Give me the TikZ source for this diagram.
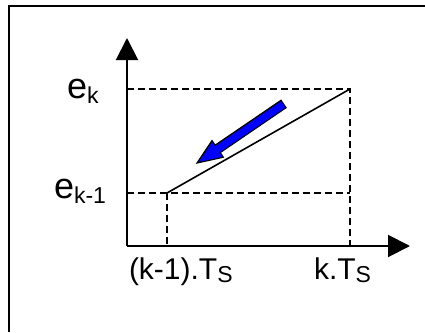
\documentclass[tikz,border=0pt]{standalone}
\usepackage{fontspec}
\setmainfont{Liberation Sans}
\usetikzlibrary{arrows.meta, calc}
\newcommand{\BigLbl}{\fontsize{36}{40}\selectfont}
\newcommand{\SmallLbl}{\fontsize{30}{34}\selectfont}
\newcommand{\LowSub}[2]{\raisebox{-#1}{\fontsize{23}{23}\selectfont #2}}

\begin{document}
\begin{tikzpicture}[x=1pt, y=-1pt,
    axis/.style={line width=2pt, -{Triangle[length=22pt, width=22pt]}},
    guide/.style={line width=1.6pt, dash pattern=on 7pt off 4pt},
    lbl/.style={inner sep=0pt, outer sep=0pt}]
    \useasboundingbox (0,0) rectangle (425,332);

    % Frame (top and left edges only)
    \draw[line width=2.3pt] (8.7,332) -- (8.7,6.2) -- (425,6.2);

    % Points
    \coordinate (O) at (127,246);
    \coordinate (ytip) at (127,38);
    \coordinate (xtip) at (410,246);
    \coordinate (Pa) at (167,193);
    \coordinate (Pb) at (350,89);

    % Axes
    \draw[axis] (O) -- (ytip);
    \draw[axis] (O) -- (xtip);

    % Guide lines
    \draw[guide] (O |- Pb) -- (Pb) -- (Pb |- O);
    \draw[guide] (O |- Pa) -- (Pa -| Pb);
    \draw[guide] (Pa) -- (Pa |- O);

    % Ramp
    \draw[line width=1.6pt] (Pa) -- (Pb);

    % Blue arrow
    \draw[fill=blue, line width=1.2pt, line join=miter]
        (197,163) -- (223.3,157.2) -- (220.2,152.6) -- (286.0,107.7)
        -- (281.0,100.3) -- (215.1,145.2) -- (212.0,140.6) -- cycle;

    % Labels
    \node[lbl, anchor=base west] (ek) at (67,98) {\BigLbl e\LowSub{5pt}{k}};
    \node[lbl, anchor=base west] (ekm) at (54,198) {\BigLbl e\LowSub{5pt}{k-1}};
    \node[lbl, anchor=base west] (tkm) at (129,279) {\SmallLbl (k-1).T\LowSub{3pt}{S}};
    \node[lbl, anchor=base west] (tk) at (314,279) {\SmallLbl k.T\LowSub{3pt}{S}};
\end{tikzpicture}
\end{document}
